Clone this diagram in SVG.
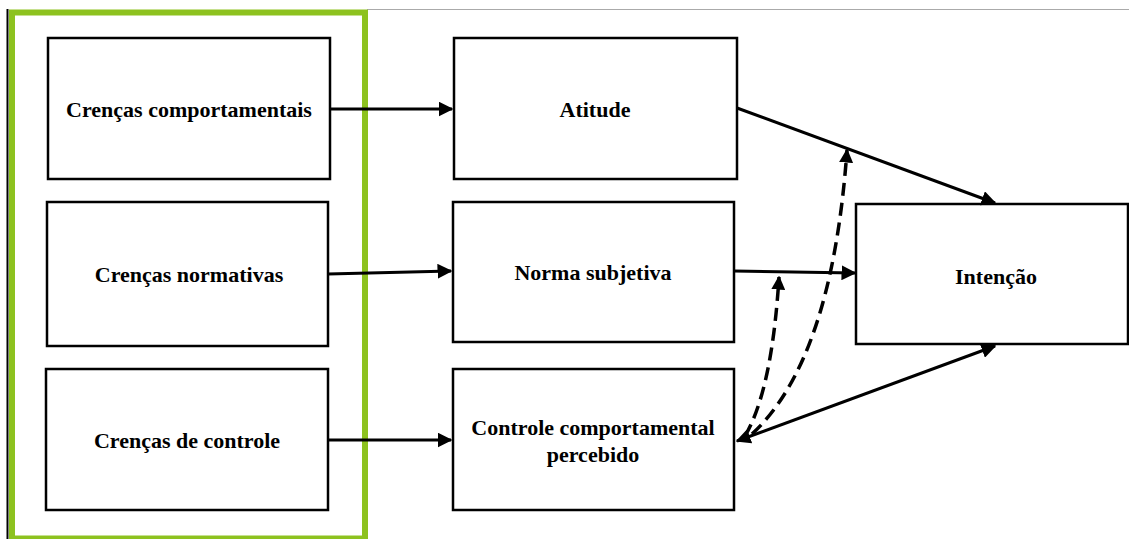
<svg xmlns="http://www.w3.org/2000/svg" width="1129" height="539" viewBox="0 0 1129 539">
<style>
.box{fill:#fff;stroke:#000;stroke-width:2.5}
.lbl{font-family:"Liberation Serif","Times New Roman",serif;font-weight:bold;font-size:22px;fill:#000;text-anchor:middle}
.ln{stroke:#000;stroke-width:3;fill:none}
.dash{stroke:#000;stroke-width:3.5;fill:none;stroke-dasharray:13 7}
</style>
<defs>
<marker id="ah" viewBox="0 0 10 10" refX="9" refY="5" markerWidth="5" markerHeight="5" orient="auto-start-reverse" markerUnits="strokeWidth">
<path d="M0,0 L10,5 L0,10 z" fill="#000"/>
</marker>
<marker id="ahd" viewBox="0 0 10 10" refX="9" refY="5" markerWidth="4" markerHeight="4" orient="auto-start-reverse" markerUnits="strokeWidth">
<path d="M0,0 L10,5 L0,10 z" fill="#000"/>
</marker>
</defs>
<rect width="1129" height="539" fill="#fff"/>
<line x1="367" y1="9.5" x2="1129" y2="9.5" stroke="#aaa" stroke-width="1"/>
<line x1="7.5" y1="9" x2="7.5" y2="539" stroke="#000" stroke-width="2"/>
<rect x="12" y="12.5" width="353" height="526" fill="none" stroke="#8dc21f" stroke-width="6"/>
<g id="n1"><rect class="box" x="48" y="38" width="282" height="141"/><text class="lbl" x="189" y="117">Crenças comportamentais</text></g>
<g id="n2"><rect class="box" x="47" y="202" width="281" height="144"/><text class="lbl" x="189" y="282">Crenças normativas</text></g>
<g id="n3"><rect class="box" x="46" y="369" width="282" height="141"/><text class="lbl" x="187" y="448">Crenças de controle</text></g>
<g id="n4"><rect class="box" x="454" y="38" width="283" height="141"/><text class="lbl" x="595" y="117">Atitude</text></g>
<g id="n5"><rect class="box" x="453" y="202" width="281" height="140"/><text class="lbl" x="593" y="280">Norma subjetiva</text></g>
<g id="n6"><rect class="box" x="453" y="369" width="281" height="141"/><text class="lbl" x="593" y="435">Controle comportamental</text><text class="lbl" x="593" y="462">percebido</text></g>
<g id="n7"><rect class="box" x="856" y="204" width="272" height="140"/><text class="lbl" x="996" y="284">Intenção</text></g>
<g id="edges">
<line class="ln" x1="330" y1="109" x2="452" y2="109" marker-end="url(#ah)"/>
<line class="ln" x1="328" y1="274" x2="451" y2="271" marker-end="url(#ah)"/>
<line class="ln" x1="328" y1="440" x2="451" y2="440" marker-end="url(#ah)"/>
<line class="ln" x1="737" y1="108" x2="995" y2="203" marker-end="url(#ah)"/>
<line class="ln" x1="734" y1="271" x2="855" y2="273" marker-end="url(#ah)"/>
<line class="ln" x1="737" y1="441" x2="995" y2="346" marker-start="url(#ah)" marker-end="url(#ah)"/>
<path class="dash" d="M745,436 Q772,390 779,277" marker-end="url(#ahd)"/>
<path class="dash" d="M752,434 Q832,360 847,150" marker-end="url(#ahd)"/>
</g>
</svg>
